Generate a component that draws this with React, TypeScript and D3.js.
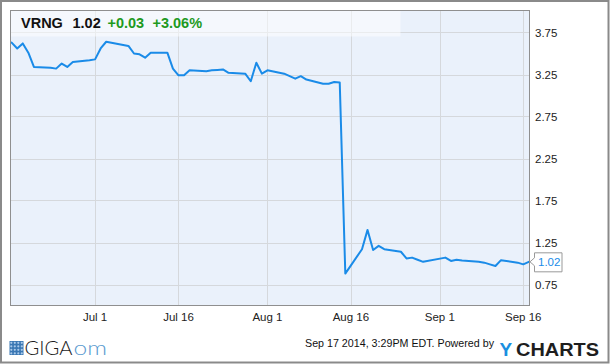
import React from "react";
import * as d3 from "d3";

// ---- data ----
const dates: string[] = [
  "2014-06-16","2014-06-17","2014-06-18","2014-06-19","2014-06-20",
  "2014-06-23","2014-06-24","2014-06-25","2014-06-26","2014-06-27",
  "2014-06-30","2014-07-01","2014-07-02","2014-07-03",
  "2014-07-07","2014-07-08","2014-07-09","2014-07-10","2014-07-11",
  "2014-07-14","2014-07-15","2014-07-16","2014-07-17","2014-07-18",
  "2014-07-21","2014-07-22","2014-07-23","2014-07-24","2014-07-25",
  "2014-07-28","2014-07-29","2014-07-30","2014-07-31","2014-08-01",
  "2014-08-04","2014-08-05","2014-08-06","2014-08-07","2014-08-08",
  "2014-08-11","2014-08-12","2014-08-13","2014-08-14","2014-08-15",
  "2014-08-18","2014-08-19","2014-08-20","2014-08-21","2014-08-22",
  "2014-08-25","2014-08-26","2014-08-27","2014-08-28","2014-08-29",
  "2014-09-02","2014-09-03","2014-09-04","2014-09-05",
  "2014-09-08","2014-09-09","2014-09-10","2014-09-11","2014-09-12",
  "2014-09-15","2014-09-16","2014-09-17",
];
const prices: number[] = [
  3.63, 3.56, 3.62, 3.51, 3.34,
  3.33, 3.32, 3.38, 3.34, 3.40,
  3.42, 3.43, 3.56, 3.64,
  3.59, 3.50, 3.49, 3.45, 3.51,
  3.51, 3.32, 3.24, 3.24, 3.30,
  3.29, 3.30, 3.305, 3.31, 3.27,
  3.26, 3.17, 3.39, 3.26, 3.30,
  3.26, 3.23, 3.20, 3.23, 3.19,
  3.14, 3.14, 3.16, 3.155, 0.88,
  1.17, 1.40, 1.16, 1.21, 1.17,
  1.14, 1.06, 1.07, 1.045, 1.02,
  1.07, 1.03, 1.045, 1.035,
  1.02, 1.01, 0.99, 0.97, 1.04,
  1.01, 0.99, 1.02,
];
const yTicks: number[] = [0.75, 1.25, 1.75, 2.25, 2.75, 3.25, 3.75];
const xTickDates: string[] = ["2014-07-01", "2014-07-16", "2014-08-01", "2014-08-16", "2014-09-01", "2014-09-16"];
const xTickLabels: string[] = ["Jul 1", "Jul 16", "Aug 1", "Aug 16", "Sep 1", "Sep 16"];
const ticker = "VRNG";
const lastPrice = "1.02";
const change = "+0.03";
const changePct = "+3.06%";
const timestamp = "Sep 17 2014, 3:29PM EDT.  Powered by";

const W = 610, H = 364;
const plot = { left: 10.5, top: 10.5, right: 529.5, bottom: 305.5 };

const parse = (s: string) => {
  const [y, m, d] = s.split("-").map(Number);
  return new Date(y, m - 1, d);
};

export default function App() {
  const x = d3.scaleTime()
    .domain([new Date(2014, 5, 15, 19), new Date(2014, 8, 17, 3)])
    .range([plot.left, plot.right]);
  const y = d3.scaleLinear().domain([0.5, 4.0]).range([305.5, 11.5]);

  const pts = dates.map((d, i) => ({ d: parse(d), v: prices[i] }));
  const line = d3.line<{ d: Date; v: number }>()
    .x((p) => x(p.d))
    .y((p) => y(p.v));

  const last = pts[pts.length - 1];
  const ly = y(last.v);
  const bx = plot.right + 5;
  const labelPath = `M${plot.right + 0.5},${ly} L${bx},${ly - 4} L${bx},${ly - 9} L${bx + 27.5},${ly - 9} L${bx + 27.5},${ly + 10} L${bx},${ly + 10} L${bx},${ly + 4} Z`;

  const font = "'Liberation Sans', Arial, sans-serif";
  const logoFont = "Lato, 'Open Sans', 'Noto Sans', sans-serif";

  return (
    <svg width={W} height={H} style={{ position: "absolute", left: 0, top: 0, display: "block" }} fontFamily={font}>
      <rect x={0} y={0} width={W} height={H} fill="#fff" />
      <rect x={1} y={1} width={W - 2.5} height={H - 2.5} fill="none" stroke="#8a8a8a" strokeWidth={2} />
      {/* plot background */}
      <rect x={plot.left} y={plot.top} width={plot.right - plot.left} height={plot.bottom - plot.top} fill="#eaf1fb" />
      {/* grid */}
      {yTicks.map((t) => (
        <line key={"gy" + t} x1={plot.left} x2={plot.right} y1={Math.round(y(t)) + 0.5} y2={Math.round(y(t)) + 0.5} stroke="#d5d8dc" strokeWidth={1} />
      ))}
      {xTickDates.map((t) => {
        const xx = Math.round(x(parse(t))) + 0.5;
        return <line key={"gx" + t} x1={xx} x2={xx} y1={plot.top} y2={plot.bottom} stroke="#d5d8dc" strokeWidth={1} />;
      })}
      {/* header box */}
      <rect x={plot.left} y={plot.top} width={390} height={26} fill="#ffffff" opacity={0.5} />
      {/* line */}
      <path d={line(pts) || ""} fill="none" stroke="#1a8be8" strokeWidth={2} strokeLinejoin="round" strokeLinecap="round" />
      {/* plot border */}
      <rect x={plot.left} y={plot.top} width={plot.right - plot.left} height={plot.bottom - plot.top} fill="none" stroke="#8f8f8f" strokeWidth={1} />
      {/* header text */}
      <text x={21} y={27.5} fontSize={14.5} fontWeight="bold" fill="#111">{ticker}</text>
      <text x={72.5} y={27.5} fontSize={14.5} fontWeight="bold" fill="#111">{lastPrice}</text>
      <text x={107.5} y={27.5} fontSize={14.5} fontWeight="bold" fill="#1f9a1f">{change}</text>
      <text x={152.5} y={27.5} fontSize={14.5} fontWeight="bold" fill="#1f9a1f">{changePct}</text>
      {/* y axis labels */}
      {yTicks.map((t) => (
        <text key={"yl" + t} x={535} y={y(t)} dy="0.36em" fontSize={11.5} fill="#222">{t.toFixed(2)}</text>
      ))}
      {/* x axis labels */}
      {xTickDates.map((t, i) => (
        <text key={"xl" + t} x={x(parse(t))} y={320.5} fontSize={11.5} fill="#222" textAnchor="middle">{xTickLabels[i]}</text>
      ))}
      {/* last value label */}
      <path d={labelPath} fill="#fff" stroke="#999" strokeWidth={1} />
      <text x={bx + 3.5} y={ly} dy="0.36em" fontSize={11.5} fill="#1a8be8">{lastPrice}</text>
      {/* footer: GigaOM logo */}
      <g>
        <rect x={9.5} y={341} width={14} height={14} fill="#3b78b4" />
        {d3.range(4).flatMap((r) => d3.range(4).map((c) => (
          <circle key={`dot${r}-${c}`} cx={11.3 + c * 3.5} cy={342.8 + r * 3.5} r={1.1} fill="#a9c9ea" />
        )))}
        <text x={24.5} y={355} fontSize={19.5} fill="#1d1d1d" fontFamily={logoFont} fontWeight={300} textLength={48} lengthAdjust="spacingAndGlyphs">GIGA</text>
        <text x={73.5} y={355} fontSize={19.5} fill="#5b9bd0" fontFamily={logoFont} fontWeight={300} textLength={33.5} lengthAdjust="spacingAndGlyphs">om</text>
      </g>
      {/* footer text */}
      <text x={305} y={346.5} fontSize={11} fill="#111" textLength={189} lengthAdjust="spacingAndGlyphs">{timestamp}</text>
      <text x={499.5} y={356} fontSize={19} fontWeight="bold" fill="#1a8fe0">Y</text>
      <text x={516} y={356} fontSize={19} fontWeight="bold" fill="#1e1e1e" textLength={83} lengthAdjust="spacingAndGlyphs">CHARTS</text>
    </svg>
  );
}
